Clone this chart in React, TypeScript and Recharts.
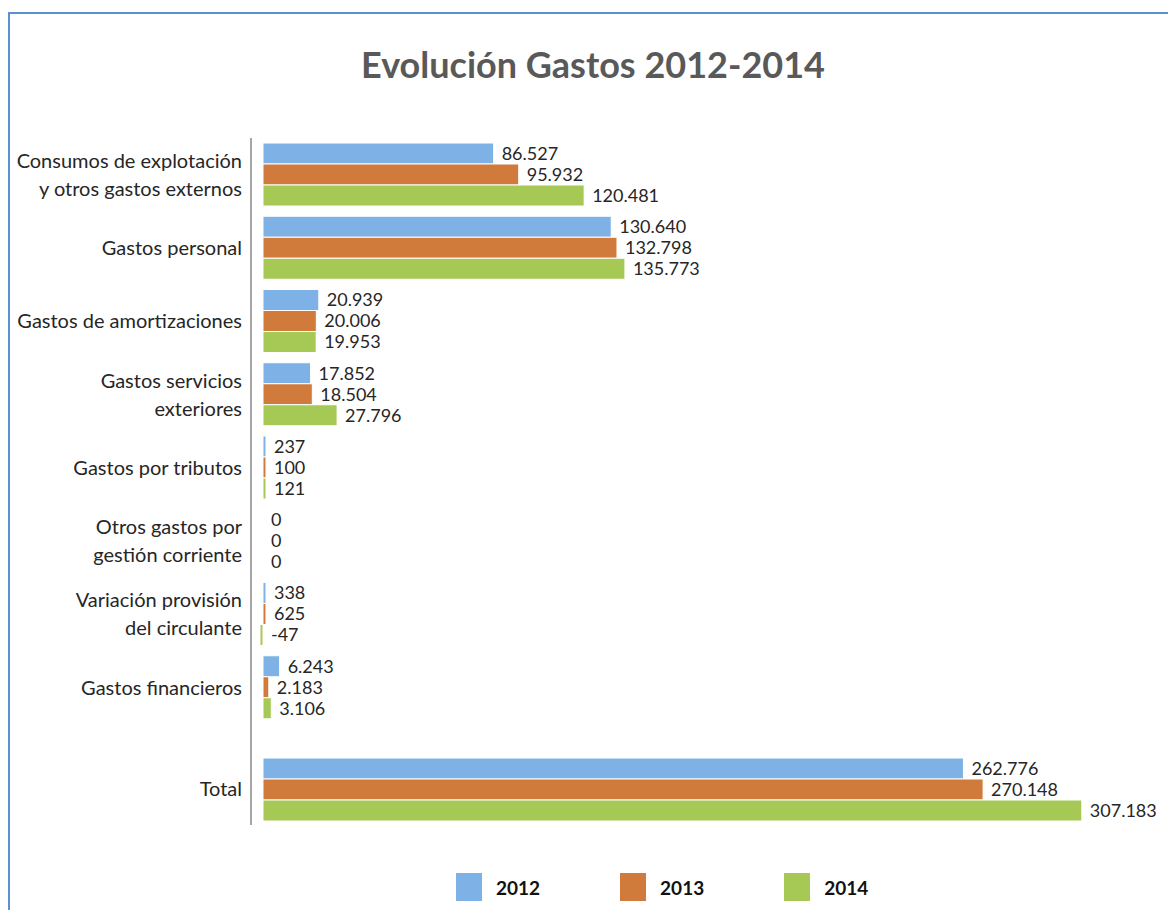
import { Bar, BarChart, LabelList, Legend, XAxis, YAxis } from "recharts";

const FONT = "Lato, 'Open Sans', sans-serif";

const CATEGORIES = [
  "Consumos de explotación\ny otros gastos externos",
  "Gastos personal",
  "Gastos de amortizaciones",
  "Gastos servicios\nexteriores",
  "Gastos por tributos",
  "Otros gastos por\ngestión corriente",
  "Variación provisión\ndel circulante",
  "Gastos financieros",
];
const TOTAL_LABEL = "Total";

const V2012 = [86527, 130640, 20939, 17852, 237, 0, 338, 6243];
const V2013 = [95932, 132798, 20006, 18504, 100, 0, 625, 2183];
const V2014 = [120481, 135773, 19953, 27796, 121, 0, -47, 3106];
// 2012, 2013, 2014
const TOTALS = [262776, 270148, 307183];

const SERIES = ["2012", "2013", "2014"];
const KEYS = ["y2012", "y2013", "y2014"];
const COLORS = ["#7eb2e6", "#d07b3b", "#a6c855"];

const rows = CATEGORIES.map((cat, i) => ({ cat, y2012: V2012[i], y2013: V2013[i], y2014: V2014[i] }));
const totalRows = [{ cat: TOTAL_LABEL, y2012: TOTALS[0], y2013: TOTALS[1], y2014: TOTALS[2] }];

const X_DOMAIN: [number, number] = [-4500, 320000];

function fmt(n: number) {
  const s = Math.abs(n).toString().replace(/\B(?=(\d{3})+(?!\d))/g, ".");
  return n < 0 ? "-" + s : s;
}

function CategoryTick({ x, y, payload }: any) {
  const lines = String(payload.value).split("\n");
  return (
    <text x={x} y={y} textAnchor="end" fill="#262626" fontSize={20} fontFamily={FONT}>
      {lines.map((l, i) => (
        <tspan key={i} x={x} y={y + (i - (lines.length - 1) / 2) * 28} dy="0.36em">
          {l}
        </tspan>
      ))}
    </text>
  );
}

function ValueLabel(props: any) {
  const vb = props.viewBox ?? props;
  const x = Number(vb.x), w = Number(vb.width), y = Number(vb.y), h = Number(vb.height);
  const end = Math.max(x, x + w);
  return (
    <text x={end + 8} y={y + h / 2} dy="0.36em" fill="#262626" fontSize={18} fontFamily={FONT}>
      {fmt(Number(props.value))}
    </text>
  );
}

function LegendContent({ payload }: any) {
  return (
    <div style={{ height: 80, boxSizing: "border-box", paddingTop: 48, paddingLeft: 446, display: "flex", gap: 80 }}>
      {(payload ?? []).map((p: any) => (
        <div key={p.value} style={{ display: "flex", alignItems: "center", gap: 14, height: 28 }}>
          <span style={{ display: "inline-block", width: 26, height: 28, background: p.color }} />
          <span style={{ fontFamily: FONT, fontWeight: 700, fontSize: 19, color: "#111" }}>{p.value}</span>
        </div>
      ))}
    </div>
  );
}

// tiny non-zero values still get a visible sliver, as in the original
const minSize = (v: number) => (v === 0 ? 0.01 : 3);

function series() {
  return SERIES.map((s, i) => (
    <Bar key={s} dataKey={KEYS[i]} name={s} fill={COLORS[i]} stroke="#fff" strokeWidth={1} barSize={21}
      minPointSize={minSize} isAnimationActive={false}>
      <LabelList dataKey={KEYS[i]} content={ValueLabel} />
    </Bar>
  ));
}

const axisLine = { stroke: "#a6a6a6", strokeWidth: 2 };

export default function App() {
  return (
    <div
      style={{
        position: "relative",
        top: 4,
        width: 1166,
        height: 900,
        borderTop: "2px solid #5b8fd6",
        borderLeft: "2px solid #5b8fd6",
        background: "#fff",
      }}
    >
      <div
        style={{
          position: "absolute",
          top: 28,
          left: 0,
          width: 1166,
          textAlign: "center",
          fontFamily: FONT,
          fontWeight: 700,
          fontSize: 36,
          color: "#595959",
        }}
      >
        Evolución Gastos 2012-2014
      </div>

      <div style={{ position: "absolute", top: 116, left: 0 }}>
        <BarChart width={1166} height={594} data={rows} layout="vertical" barGap={0}
          margin={{ top: 8, right: 60, bottom: 0, left: 0 }}>
          <XAxis type="number" domain={X_DOMAIN} hide />
          <YAxis type="category" dataKey="cat" width={241} interval={0} tickSize={0} tickMargin={9}
            tickLine={false} axisLine={axisLine} tick={<CategoryTick />} />
          {series()}
        </BarChart>
      </div>

      <div style={{ position: "absolute", top: 710, left: 0 }}>
        <BarChart width={1166} height={181} data={totalRows} layout="vertical" barGap={0}
          margin={{ top: 0, right: 60, bottom: 0, left: 0 }}>
          <XAxis type="number" domain={X_DOMAIN} hide />
          <YAxis type="category" dataKey="cat" width={241} interval={0} tickSize={0} tickMargin={9}
            tickLine={false} axisLine={axisLine} tick={<CategoryTick />} padding={{ top: 29, bottom: 0 }} />
          <Legend verticalAlign="bottom" content={<LegendContent />} />
          {series()}
        </BarChart>
      </div>
    </div>
  );
}
